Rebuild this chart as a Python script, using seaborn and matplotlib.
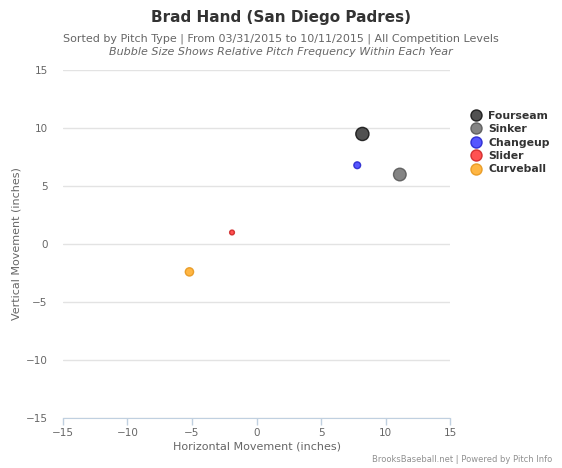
import pandas as pd
import matplotlib
matplotlib.use("Agg")
import matplotlib.pyplot as plt
import seaborn as sns
from matplotlib.lines import Line2D

pitch_types = ['Fourseam', 'Sinker', 'Changeup', 'Slider', 'Curveball']
horiz_mov = [8.2, 11.1, 7.8, -1.9, -5.2]
vert_mov = [9.5, 6.0, 6.8, 1.0, -2.4]
frecuencia = [0.44, 0.40, 0.10, 0.04, 0.16]
colores = ['#333333', '#6e6e6e', '#3a3aff', '#ff3333', '#ffaa22']
bordes = ['#111111', '#555555', '#2222cc', '#cc2222', '#e6951a']

df = pd.DataFrame({'Pitch': pitch_types, 'H': horiz_mov, 'V': vert_mov, 'Freq': frecuencia})

sns.set_style("white")
plt.rcParams['font.family'] = ['DejaVu Sans']

fig = plt.figure(figsize=(5.62, 4.68), dpi=100)
ax = fig.add_axes([0.112, 0.107, 0.689, 0.743])

sns.scatterplot(ax=ax, data=df, x='H', y='V', hue='Pitch', palette=colores, size='Freq',
                sizes=(12, 90), alpha=0.85, edgecolor=bordes, linewidth=1, legend=False, zorder=3)

ax.set_xlim(-15, 15)
ax.set_ylim(-15, 15)
ax.set_xticks(range(-15, 16, 5))
ax.set_yticks(range(-15, 16, 5))
ax.set_xticklabels(['−15', '−10', '−5', '0', '5', '10', '15'])
ax.set_yticklabels(['−15', '−10', '−5', '0', '5', '10', '15'])
ax.yaxis.grid(True, color='#e3e3e3', linewidth=1)
ax.xaxis.grid(False)
for s in ['top', 'right', 'left']:
    ax.spines[s].set_visible(False)
ax.spines['bottom'].set_color('#c0d0e0')
ax.tick_params(axis='x', bottom=True, colors='#c0d0e0', length=5, width=1, labelcolor='#666666',
               labelsize=7.5, direction='out', pad=2)
ax.tick_params(axis='y', length=0, labelcolor='#666666', labelsize=7.5, pad=11)
ax.set_xlabel('Horizontal Movement (inches)', fontsize=8, color='#666666', labelpad=3)
ax.set_ylabel('Vertical Movement (inches)', fontsize=8, color='#666666', labelpad=3)

fig.text(0.5, 0.962, 'Brad Hand (San Diego Padres)', ha='center', va='center', fontsize=11,
         fontweight='bold', color='#333333')
fig.text(0.5, 0.918, 'Sorted by Pitch Type | From 03/31/2015 to 10/11/2015 | All Competition Levels',
         ha='center', va='center', fontsize=8, color='#666666')
fig.text(0.5, 0.889, 'Bubble Size Shows Relative Pitch Frequency Within Each Year',
         ha='center', va='center', fontsize=8, color='#666666', style='italic')
fig.text(0.982, 0.008, 'BrooksBaseball.net | Powered by Pitch Info', ha='right', va='bottom',
         fontsize=6, color='#909090')

handles = [Line2D([0], [0], marker='o', linestyle='', markersize=8, markerfacecolor=c,
                  markeredgecolor=b, alpha=0.85) for c, b in zip(colores, bordes)]
leg = fig.legend(handles, pitch_types, loc='upper left', bbox_to_anchor=(0.830, 0.773), frameon=False,
                 handletextpad=0.6, labelspacing=0.32, borderaxespad=0, handlelength=1.0, fontsize=7.8)
for t in leg.get_texts():
    t.set_fontweight('bold')
    t.set_color('#333333')

plt.savefig('out.png', dpi=100)
